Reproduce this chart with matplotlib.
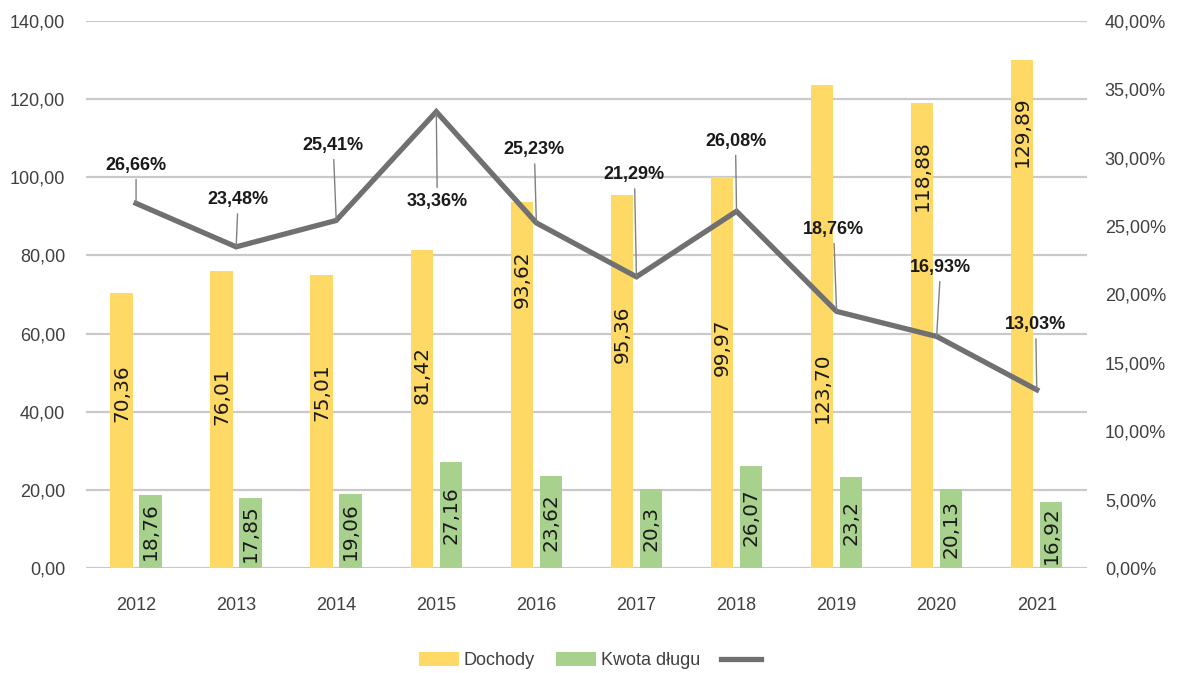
import numpy as np
import matplotlib
matplotlib.use("Agg")
import matplotlib.pyplot as plt
from matplotlib.ticker import FuncFormatter

years = ["2012", "2013", "2014", "2015", "2016", "2017", "2018", "2019", "2020", "2021"]
dochody = [70.36, 76.01, 75.01, 81.42, 93.62, 95.36, 99.97, 123.70, 118.88, 129.89]
dochody_labels = ["70,36", "76,01", "75,01", "81,42", "93,62", "95,36", "99,97", "123,70", "118,88", "129,89"]
dlug = [18.76, 17.85, 19.06, 27.16, 23.62, 20.3, 26.07, 23.2, 20.13, 16.92]
dlug_labels = ["18,76", "17,85", "19,06", "27,16", "23,62", "20,3", "26,07", "23,2", "20,13", "16,92"]
wskaznik = [26.66, 23.48, 25.41, 33.36, 25.23, 21.29, 26.08, 18.76, 16.93, 13.03]

# manual label placement (as in the original Excel chart)
dochody_label_y = [44.8, 44.0, 45.1, 49.4, 74.0, 59.9, 56.6, 46.1, 100.4, 111.6]
line_label_dy = [38, 47, 75, -90, 73, 102, 70, 82, 69, 65]  # pixels above point
line_label_dx = [0, 2, -3, 1, -2, -2, -1, -3, 4, -1]

YELLOW = "#FFD966"
GREEN = "#A9D18E"
LINE = "#707070"
GRID = "#C9C9C9"
TXT = "#404040"
SANS = ["Liberation Sans", "DejaVu Sans"]
FS = 13

fig = plt.figure(figsize=(11.85, 6.73), dpi=100)
ax = fig.add_axes([0.0726, 0.156, 0.8445, 0.813])
ax2 = ax.twinx()

x = np.arange(len(years))
w = 0.225
ax.bar(x - 0.145, dochody, w, color=YELLOW, zorder=2, label="Dochody")
ax.bar(x + 0.145, dlug, w, color=GREEN, zorder=2, label="Kwota długu")

for i in range(len(years)):
    ax.text(x[i] - 0.145, dochody_label_y[i], dochody_labels[i], rotation=90,
            ha="center", va="center", fontsize=14.5, family="DejaVu Sans",
            color="#1a1a1a", zorder=3)
    ax.text(x[i] + 0.145, dlug[i] / 2, dlug_labels[i], rotation=90,
            ha="center", va="center", fontsize=14.5, family="DejaVu Sans",
            color="#1a1a1a", zorder=3)

ax.set_ylim(0, 140)
ax.set_xlim(-0.5, len(years) - 0.5)
ax.set_yticks(np.arange(0, 141, 20))
ax.yaxis.set_major_formatter(FuncFormatter(lambda v, p: f"{v:.2f}".replace(".", ",")))
ax.set_xticks(x)
ax.set_xticklabels(years)
ax.grid(axis="y", color=GRID, lw=1.6, zorder=0)
ax.set_axisbelow(True)

ax2.set_ylim(0, 40)
ax2.set_yticks(np.arange(0, 41, 5))
ax2.yaxis.set_major_formatter(FuncFormatter(lambda v, p: f"{v:.2f}%".replace(".", ",")))
line, = ax2.plot(x, wskaznik, color=LINE, lw=3.8, zorder=4, solid_joinstyle="miter")

for i, v in enumerate(wskaznik):
    ax2.annotate(f"{v:.2f}%".replace(".", ","), xy=(x[i], v),
                 xytext=(line_label_dx[i], line_label_dy[i]), textcoords="offset pixels",
                 ha="center", va="center", fontsize=FS, fontweight="bold",
                 family=SANS, color="#1a1a1a", zorder=5,
                 arrowprops=dict(arrowstyle="-", color="#808080", lw=1,
                                 shrinkA=2, shrinkB=0))

for a in (ax, ax2):
    for s in a.spines.values():
        s.set_visible(False)
    a.tick_params(length=0, labelsize=FS, labelcolor=TXT)
    for lab in a.get_xticklabels() + a.get_yticklabels():
        lab.set_family(SANS)
ax.tick_params(axis="y", pad=15)
ax2.tick_params(axis="y", pad=13)
ax.tick_params(axis="x", pad=21)

handles = [ax.patches[0], ax.patches[len(years)], line]
leg = fig.legend(handles, ["Dochody", "Kwota długu", ""], loc="center",
                 bbox_to_anchor=(0.5, 0.018), ncol=3, frameon=False,
                 handlelength=2.2, handleheight=0.8,
                 handletextpad=0.25, columnspacing=1.2,
                 prop={"family": SANS, "size": FS})
for t in leg.get_texts():
    t.set_color(TXT)

fig.savefig("out.png", dpi=100, facecolor="white")
